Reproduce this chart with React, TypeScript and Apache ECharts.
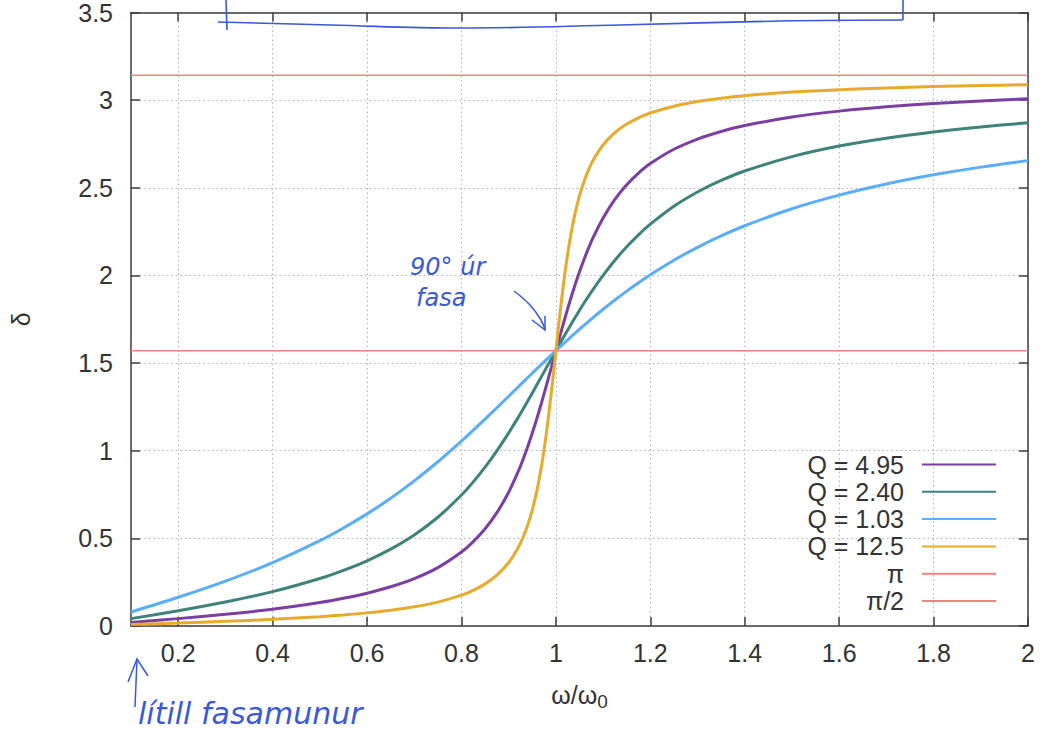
import { useEffect, useRef } from 'react';
import * as echarts from 'echarts';

// ω/ω0 sample positions
const omega = [0.1, 0.2, 0.3, 0.4, 0.5, 0.55, 0.6, 0.65, 0.7, 0.75, 0.8, 0.825, 0.85, 0.875, 0.9, 0.92, 0.93, 0.94, 0.95, 0.96, 0.97, 0.98, 0.99, 0.995, 1, 1.005, 1.01, 1.02, 1.03, 1.04, 1.05, 1.06, 1.07, 1.08, 1.1, 1.125, 1.15, 1.175, 1.2, 1.25, 1.3, 1.35, 1.4, 1.5, 1.6, 1.7, 1.8, 1.9, 2];

// δ for each curve
const deltaQ495 = [0.0204, 0.0421, 0.0665, 0.0959, 0.1339, 0.158, 0.1872, 0.2236, 0.2705, 0.3333, 0.422, 0.481, 0.5544, 0.6465, 0.7634, 0.8802, 0.9473, 1.0208, 1.1008, 1.1865, 1.2778, 1.3734, 1.4716, 1.5212, 1.5708, 1.6201, 1.669, 1.7644, 1.8555, 1.9413, 2.0207, 2.094, 2.1616, 2.2224, 2.3279, 2.4339, 2.5171, 2.5838, 2.6381, 2.7196, 2.7779, 2.8213, 2.855, 2.9038, 2.9373, 2.9618, 2.9807, 2.9956, 3.0077];
const deltaQ240 = [0.0421, 0.0866, 0.1365, 0.1959, 0.2709, 0.3175, 0.372, 0.4384, 0.5194, 0.6203, 0.747, 0.8221, 0.9062, 0.9995, 1.1018, 1.1896, 1.2354, 1.2817, 1.3293, 1.3773, 1.4256, 1.4741, 1.5226, 1.5467, 1.5708, 1.5947, 1.6185, 1.6656, 1.7118, 1.7569, 1.8009, 1.8438, 1.8851, 1.9253, 2.0004, 2.0866, 2.1635, 2.2317, 2.2924, 2.3946, 2.4759, 2.5417, 2.5958, 2.678, 2.738, 2.783, 2.8183, 2.847, 2.8707];
const deltaQ103 = [0.08, 0.1638, 0.256, 0.3613, 0.4867, 0.5594, 0.6397, 0.7291, 0.8281, 0.937, 1.0547, 1.1171, 1.1804, 1.2452, 1.3108, 1.3635, 1.3898, 1.416, 1.4422, 1.4682, 1.4942, 1.5199, 1.5455, 1.5582, 1.5708, 1.5834, 1.5959, 1.6207, 1.6451, 1.6694, 1.6932, 1.7167, 1.7398, 1.7625, 1.8068, 1.8599, 1.9105, 1.9584, 2.0039, 2.0869, 2.1604, 2.2256, 2.2834, 2.3806, 2.4581, 2.5216, 2.5738, 2.6179, 2.6549];
const deltaQ125 = [0.0081, 0.0167, 0.0264, 0.0381, 0.0533, 0.063, 0.0749, 0.0898, 0.1094, 0.1363, 0.176, 0.2038, 0.2403, 0.2903, 0.3623, 0.4471, 0.5034, 0.5734, 0.6624, 0.7751, 0.9199, 1.1031, 1.3246, 1.4462, 1.5708, 1.6949, 1.8146, 2.0309, 2.2073, 2.3465, 2.4551, 2.5403, 2.6078, 2.6626, 2.7443, 2.8149, 2.8637, 2.8994, 2.9268, 2.9656, 2.992, 3.011, 3.0254, 3.0459, 3.0598, 3.0697, 3.0774, 3.0835, 3.0883];

// horizontal reference levels
const refX = [0.1, 2];
const piLevel = [3.14159, 3.14159];
const halfPiLevel = [1.5708, 1.5708];

const seriesNames = ['Q = 4.95', 'Q = 2.40', 'Q = 1.03', 'Q = 12.5', 'π', 'π/2'];
const seriesColors = ['#7b3fa4', '#3e8379', '#5aaef7', '#e8aa2c', '#f2837d', '#f2837d'];

const xTicks = [0.2, 0.4, 0.6, 0.8, 1, 1.2, 1.4, 1.6, 1.8, 2];
const xMin = 0.1;
const xMax = 2;
const yMin = 0;
const yMax = 3.5;
const yStep = 0.5;

const FONT = 'Liberation Sans, Arial, sans-serif';
const INK = '#3a58d8';
const FRAME = '#3c3c3c';

export default function App() {
  const ref = useRef<HTMLDivElement>(null);

  useEffect(() => {
    if (!ref.current) return;
    const chart = echarts.init(ref.current, null, { renderer: 'svg' });

    const curves = [deltaQ495, deltaQ240, deltaQ103, deltaQ125];
    const series: any[] = curves.map((vals, i) => ({
      name: seriesNames[i],
      type: 'line',
      data: omega.map((w, k) => [w, vals[k]]),
      symbol: 'none',
      smooth: 0.3,
      lineStyle: { color: seriesColors[i], width: 3 },
      itemStyle: { color: seriesColors[i] },
      z: 3,
    }));
    [piLevel, halfPiLevel].forEach((lvl, j) => {
      series.push({
        name: seriesNames[4 + j],
        type: 'line',
        data: refX.map((w, k) => [w, lvl[k]]),
        symbol: 'none',
        lineStyle: { color: seriesColors[4 + j], width: 1.5 },
        itemStyle: { color: seriesColors[4 + j] },
        z: 2,
      });
    });

    const legendCenters = [467, 494.3, 521.6, 548.9, 576.2, 603.5];
    const legends = seriesNames.map((n, i) => ({
      data: [n],
      orient: 'vertical',
      right: 49,
      top: legendCenters[i] - 15,
      align: 'right',
      itemWidth: 74,
      itemHeight: 30,
      padding: 0,
      selectedMode: false,
      itemStyle: { opacity: 0 },
      textStyle: { fontSize: 25, color: '#333', fontFamily: FONT, padding: [0, 13, 0, 0] },
    }));

    const frameLine = { show: true, onZero: false, lineStyle: { color: FRAME, width: 1.5 } };
    const tickStyle = { color: FRAME, width: 1.5 };
    const gridLine = { show: true, lineStyle: { type: [1.5, 3], color: '#b0b0c2', width: 1 } };

    chart.setOption({
      animation: false,
      backgroundColor: '#ffffff',
      grid: { left: 128, right: 18, top: 12, bottom: 113 },
      legend: legends,
      xAxis: [
        {
          type: 'value',
          min: xMin,
          max: xMax,
          position: 'bottom',
          axisLine: frameLine,
          axisTick: { show: true, inside: true, length: 9, customValues: xTicks, lineStyle: tickStyle },
          axisLabel: { customValues: xTicks, fontSize: 25, color: '#333', fontFamily: FONT, margin: 14 },
          splitLine: gridLine,
          name: '{a|ω/ω}{b|0}',
          nameLocation: 'middle',
          nameGap: 52,
          nameTextStyle: {
            rich: {
              a: { fontSize: 25, color: '#333', fontFamily: FONT },
              b: { fontSize: 19, color: '#333', fontFamily: FONT, padding: [14, 0, 0, 0] },
            },
          },
        },
        {
          type: 'value',
          min: xMin,
          max: xMax,
          position: 'top',
          axisLine: frameLine,
          axisTick: { show: true, inside: true, length: 9, customValues: xTicks, lineStyle: tickStyle },
          axisLabel: { show: false, customValues: xTicks },
          splitLine: { show: false },
        },
      ],
      yAxis: [
        {
          type: 'value',
          min: yMin,
          max: yMax,
          interval: yStep,
          position: 'left',
          axisLine: frameLine,
          axisTick: { show: true, inside: true, length: 9, lineStyle: tickStyle },
          axisLabel: { fontSize: 25, color: '#333', fontFamily: FONT, margin: 18 },
          splitLine: gridLine,
          name: 'δ',
          nameLocation: 'middle',
          nameRotate: 90,
          nameGap: 98,
          nameTextStyle: { fontSize: 25, color: '#333', fontFamily: FONT },
        },
        {
          type: 'value',
          min: yMin,
          max: yMax,
          interval: yStep,
          position: 'right',
          axisLine: frameLine,
          axisTick: { show: true, inside: true, length: 9, lineStyle: tickStyle },
          axisLabel: { show: false },
          splitLine: { show: false },
        },
      ],
      series,
      graphic: [
        // handwritten notes (scan annotations)
        { type: 'polyline', z: 100, shape: { points: [[218, 22], [330, 25], [460, 28], [620, 25], [780, 21], [903, 20]], smooth: 0.4 }, style: { stroke: INK, lineWidth: 1.6, fill: null } },
        { type: 'line', z: 100, shape: { x1: 226, y1: 0, x2: 227, y2: 30 }, style: { stroke: INK, lineWidth: 1.6 } },
        { type: 'line', z: 100, shape: { x1: 903, y1: 0, x2: 903, y2: 20 }, style: { stroke: INK, lineWidth: 1.6 } },
        { type: 'text', z: 100, left: 410, top: 255, style: { text: '90° úr', fontSize: 24, fontStyle: 'italic', fontFamily: 'DejaVu Sans', fill: INK } },
        { type: 'text', z: 100, left: 416, top: 286, style: { text: 'fasa', fontSize: 24, fontStyle: 'italic', fontFamily: 'DejaVu Sans', fill: INK } },
        { type: 'polyline', z: 100, shape: { points: [[514, 291], [530, 305], [541, 320], [545, 330]], smooth: 0.4 }, style: { stroke: INK, lineWidth: 1.5, fill: null } },
        { type: 'polyline', z: 100, shape: { points: [[532, 320], [545, 330], [545, 316]] }, style: { stroke: INK, lineWidth: 1.5, fill: null } },
        { type: 'line', z: 100, shape: { x1: 135, y1: 707, x2: 137, y2: 659 }, style: { stroke: INK, lineWidth: 1.5 } },
        { type: 'polyline', z: 100, shape: { points: [[128, 682], [137, 659], [148, 676]] }, style: { stroke: INK, lineWidth: 1.5, fill: null } },
        { type: 'text', z: 100, left: 138, top: 698, style: { text: 'lítill fasamunur', fontSize: 30, fontStyle: 'italic', fontFamily: 'DejaVu Sans', fill: INK } },
      ],
    });

    return () => chart.dispose();
  }, []);

  return <div ref={ref} style={{ position: 'fixed', left: 0, top: 0, width: 1046, height: 739, background: '#fff' }} />;
}
